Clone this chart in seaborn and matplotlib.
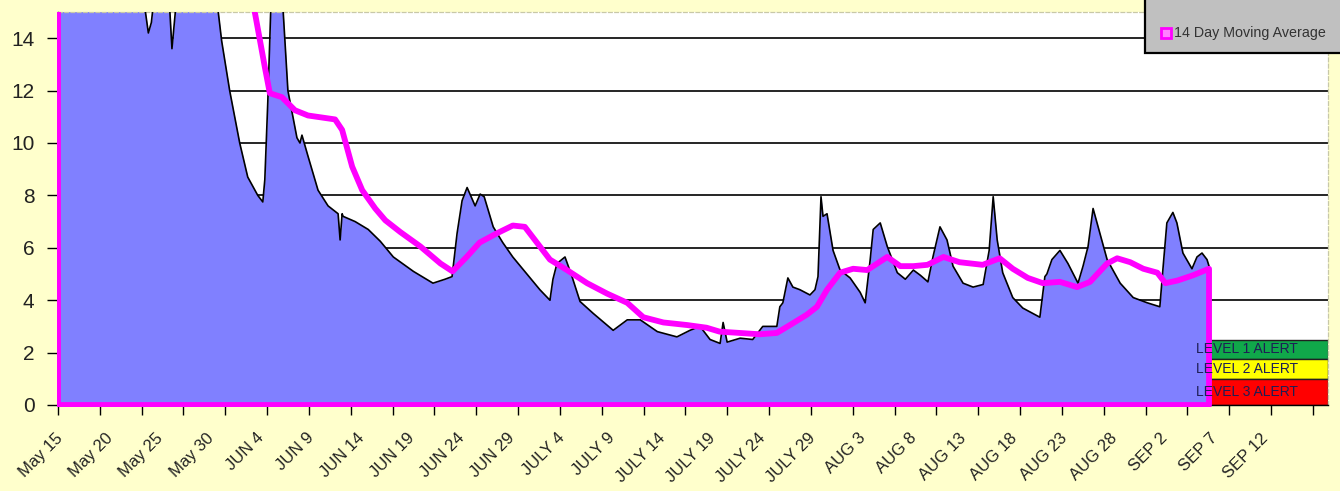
import numpy as np
import pandas as pd
import matplotlib
matplotlib.use("Agg")
import matplotlib.pyplot as plt
import seaborn as sns
from matplotlib.patches import Rectangle
from matplotlib.lines import Line2D
from matplotlib.transforms import ScaledTranslation

# ---------------- data (days since May 15) ----------------
days = [0.0, 4.2, 8.5, 8.6, 9.0, 9.3, 9.5, 9.7, 11.0, 11.35, 11.75, 11.95, 15.6, 15.9,
        16.3, 17.1, 18.1, 18.9, 19.9, 20.4, 20.6, 20.9, 21.2, 21.5, 22.2, 22.4, 22.6,
        22.9, 23.8, 24.1, 24.3, 24.9, 25.9, 26.9, 27.9, 28.1, 28.3, 28.4, 29.6, 30.9,
        32.1, 33.4, 35.4, 37.35, 38.55, 39.25, 39.75, 40.25, 40.75, 41.55, 42.05, 42.45,
        43.35, 44.3, 45.3, 46.7, 48.0, 49.0, 49.3, 49.7, 50.5, 51.2, 52.0, 53.3, 55.3,
        56.7, 58.0, 59.7, 61.65, 62.95, 63.95, 64.95, 65.95, 66.25, 66.65, 67.95, 69.2,
        70.2, 71.6, 71.9, 72.2, 72.7, 73.2, 73.9, 74.9, 75.4, 75.7, 76.0, 76.2, 76.6,
        77.2, 77.9, 78.9, 79.9, 80.4, 80.9, 81.2, 81.9, 82.6, 83.6, 84.4, 85.2, 85.9,
        86.65, 87.15, 87.85, 88.55, 89.15, 90.15, 91.15, 92.15, 92.75, 93.15, 93.55,
        94.1, 95.1, 96.1, 97.8, 98.3, 98.5, 99.0, 99.8, 100.6, 101.6, 102.1, 102.6,
        103.1, 103.6, 104.5, 105.8, 107.1, 108.5, 109.75, 110.05, 110.45, 111.05, 111.45,
        112.05, 112.95, 113.45, 113.95, 114.45, 114.65, 114.75]
level = [17.0, 17.0, 16.0, 15.3, 14.2, 14.6, 15.3, 16.0, 16.0, 13.6, 15.3, 16.0, 16.0, 15.2,
         13.9, 12.0, 10.0, 8.7, 8.0, 7.75, 8.6, 11.6, 15.2, 17.0, 17.0, 15.2, 13.9,
         12.0, 10.2, 10.0, 10.3, 9.5, 8.2, 7.6, 7.3, 6.3, 7.3, 7.2, 7.0, 6.7,
         6.25, 5.65, 5.1, 4.65, 4.8, 4.9, 6.55, 7.8, 8.3, 7.6, 8.05, 7.95,
         6.8, 6.2, 5.65, 5.0, 4.4, 4.0, 4.8, 5.4, 5.65, 4.9, 3.95, 3.5, 2.85,
         3.25, 3.25, 2.8, 2.6, 2.85, 3.0, 2.5, 2.35, 3.15, 2.4, 2.55, 2.5,
         3.0, 3.0, 3.75, 3.9, 4.85, 4.5, 4.4, 4.2, 4.4, 4.9, 7.95, 7.2, 7.3,
         5.9, 5.15, 4.85, 4.3, 3.9, 5.55, 6.7, 6.95, 6.05, 5.05, 4.8, 5.15, 4.95,
         4.7, 5.65, 6.8, 6.3, 5.3, 4.65, 4.5, 4.6, 5.9, 7.95, 6.3,
         5.05, 4.1, 3.7, 3.35, 4.9, 5.0, 5.55, 5.9, 5.4, 4.65, 5.3, 6.05,
         7.5, 6.8, 5.55, 4.65, 4.1, 3.9, 3.75, 5.15, 6.95, 7.35, 6.95,
         5.8, 5.2, 5.65, 5.8, 5.55, 5.3, 0.0]

ma_days = [0.0, 19.1, 19.6, 20.6, 21.1, 22.3, 23.6, 24.9, 27.6, 28.3, 29.3, 30.3, 31.6,
           32.6, 34.1, 36.1, 38.1, 39.3, 40.7, 42.0, 43.7, 45.3, 46.5, 47.7, 49.0, 50.7,
           52.7, 54.7, 56.7, 58.3, 60.3, 62.7, 64.6, 65.9, 67.9, 69.9, 71.6, 72.9, 74.6,
           75.6, 76.6, 77.9, 79.2, 80.6, 81.6, 82.6, 83.9, 85.2, 86.6, 88.2, 89.8, 92.1,
           93.8, 95.1, 96.6, 98.1, 99.8, 101.5, 102.8, 104.5, 105.5, 106.8, 108.1, 109.5,
           110.3, 111.5, 113.05, 114.65]
ma_level = [20.0, 17.0, 15.0, 12.9, 11.9, 11.75, 11.25, 11.05, 10.9, 10.5, 9.1, 8.2, 7.5,
            7.05, 6.6, 6.05, 5.4, 5.1, 5.65, 6.2, 6.55, 6.85, 6.8, 6.2, 5.55, 5.15,
            4.65, 4.25, 3.9, 3.35, 3.15, 3.05, 2.95, 2.8, 2.75, 2.7, 2.75, 3.05, 3.45,
            3.75, 4.4, 5.05, 5.2, 5.15, 5.4, 5.65, 5.3, 5.3, 5.35, 5.65, 5.45, 5.35,
            5.6, 5.2, 4.85, 4.65, 4.7, 4.5, 4.7, 5.4, 5.6, 5.45, 5.2, 5.05,
            4.65, 4.75, 4.95, 5.2]

label_days = [0, 5, 10, 15, 20, 25, 30, 35, 40, 45, 50, 55, 60, 65, 70, 75, 80, 85, 90,
              95, 100, 105, 110, 115, 120]
tick_labels = ["May 15", "May 20", "May 25", "May 30", "JUN 4", "JUN 9", "JUN 14",
               "JUN 19", "JUN 24", "JUN 29", "JULY 4", "JULY 9", "JULY 14", "JULY 19",
               "JULY 24", "JULY 29", "AUG 3", "AUG 8", "AUG 13", "AUG 18", "AUG 23",
               "AUG 28", "SEP 2", "SEP 7", "SEP 12"]
y_ticks = [0, 2, 4, 6, 8, 10, 12, 14]

alert_names = ["LEVEL 1 ALERT", "LEVEL 2 ALERT", "LEVEL 3 ALERT"]
alert_tops = [2.5, 1.75, 1.0]
alert_bottoms = [1.75, 1.0, 0.0]
alert_colors = ["#10A84A", "#FFFF00", "#FF0000"]
legend_label = "14 Day Moving Average"

# ---------------- styling ----------------
sns.set_theme(style="white")
plt.rcParams['font.family'] = ['Liberation Sans', 'DejaVu Sans']

W, H = 1340, 491
fig = plt.figure(figsize=(W / 100, H / 100), dpi=100, facecolor='#FFFFCC')
ax = fig.add_axes([58 / W, (H - 405) / H, 1270 / W, 393 / H])
ax.set_facecolor('white')

XMAX = 126.5
ax.set_xlim(0, XMAX)
ax.set_ylim(0, 15)

# grid
ax.set_axisbelow(True)
ax.set_yticks(y_ticks)
ax.yaxis.grid(True, color='black', lw=1.2)
ax.xaxis.grid(False)

df = pd.DataFrame({'day': days, 'level': level})

# alert bands (right of the data)
band_start = days[-1]
for top, bot, col in zip(alert_tops, alert_bottoms, alert_colors):
    ax.add_patch(Rectangle((band_start, bot), XMAX - band_start, top - bot,
                           facecolor=col, edgecolor='#202020', lw=1.0, zorder=1.5))

# main area
ax.fill_between(df['day'], 0, df['level'], color='#8080FF', lw=0, zorder=2)
sns.lineplot(data=df.iloc[:-1], x='day', y='level', color='black', lw=1.2,
             estimator=None, sort=False, ax=ax, zorder=3)

# moving average drawn as outlined area (closed polygon)
ma_df = pd.DataFrame({'day': [0.0] + ma_days + [ma_days[-1], 0.0],
                      'level': [0.0] + ma_level + [0.0, 0.0]})
sns.lineplot(data=ma_df, x='day', y='level', color='#FF00FF', lw=4.2,
             estimator=None, sort=False, ax=ax, zorder=4)
clip = Rectangle((-0.08, -0.06), XMAX + 2, 15.06, transform=ax.transData)
ax.lines[-1].set_clip_path(clip)
ax.lines[-1].set_solid_joinstyle('round')

# alert labels
for top, bot, name in zip(alert_tops, alert_bottoms, alert_names):
    ax.annotate(name, xy=(band_start, (top + bot) / 2), xytext=(-10, 0),
                textcoords='offset points', ha='left', va='center',
                fontsize=10, color='#1E1E55', zorder=6)

# axes labels / ticks
ax.set_xlabel('')
ax.set_ylabel('')
ax.xaxis.remove_overlapping_locs = False
ax.set_xticks(np.arange(0, XMAX, 100 / 24))
ax.set_xticklabels([])
ax.set_xticks(label_days, minor=True)
ax.set_xticklabels(tick_labels, minor=True, rotation=45, ha='right', va='center',
                   rotation_mode='anchor', fontsize=12, color='#222222')
ax.tick_params(axis='x', which='major', bottom=True, length=7, width=1.0,
               color='black', direction='out')
ax.tick_params(axis='x', which='minor', bottom=True, length=0, pad=22)
for lab in ax.get_xticklabels(minor=True):
    lab.set_transform(lab.get_transform() + ScaledTranslation(0.025, 0, fig.dpi_scale_trans))
ax.tick_params(axis='y', left=True, length=8, width=1.0, color='black', pad=9,
               labelsize=15, labelcolor='#222222', direction='out')

for s in ['left', 'bottom']:
    ax.spines[s].set_color('black')
    ax.spines[s].set_linewidth(1.0)
for s in ['top', 'right']:
    ax.spines[s].set_color('#C8C8A8')
    ax.spines[s].set_linewidth(0.9)
    ax.spines[s].set_linestyle((0, (3, 2)))

# legend box (partly outside the figure, as in the reference)
fig.add_artist(Rectangle((1145 / W, 1 - 53 / H), 0.3, 0.3, transform=fig.transFigure,
                         facecolor='#C0C0C0', edgecolor='black', lw=1.6, clip_on=False,
                         zorder=10))
fig.add_artist(Line2D([1166 / W], [1 - 33 / H], marker='s', markersize=6.5,
                      markerfacecolor='#FF80FF', markeredgecolor='#FF00FF',
                      markeredgewidth=2, transform=fig.transFigure, zorder=11))
fig.text(1174 / W, 1 - 33 / H, legend_label, ha='left', va='center', fontsize=10.3,
         color='#333333', zorder=11)

fig.savefig('out.png', dpi=100, facecolor=fig.get_facecolor())
